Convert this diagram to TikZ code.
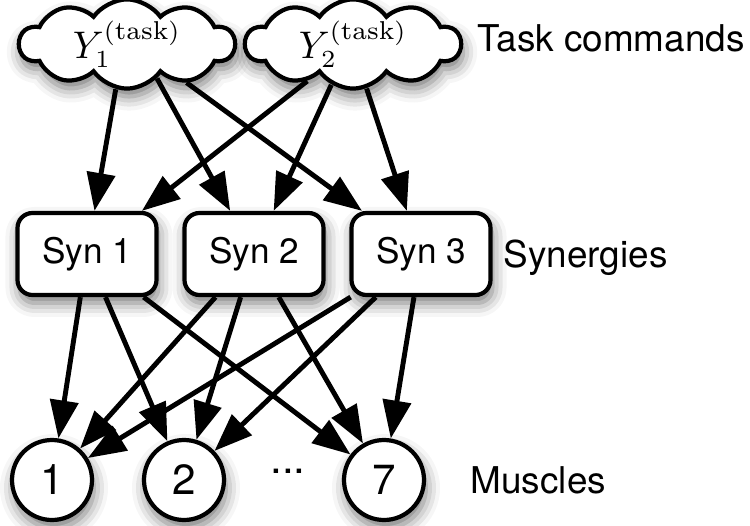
\documentclass[tikz,border=0pt]{standalone}
\usepackage{fontspec}
\setsansfont{TeX Gyre Heros}
\usetikzlibrary{shapes,shapes.symbols,arrows.meta,shadows.blur}

\begin{document}
\begin{tikzpicture}[
  shade/.style={blur shadow={shadow xshift=0.2mm, shadow yshift=-0.8mm, shadow blur radius=1.4mm, shadow opacity=55}},
  cmd/.style={cloud, cloud puffs=10, cloud puff arc=110, aspect=2.6, draw, line width=1.2pt, fill=white, shade,
    minimum width=2.15cm, minimum height=0.86cm, inner sep=0pt, font=\fontsize{10.5}{12}\selectfont},
  syn/.style={rectangle, rounded corners=0.15cm, draw, line width=1.2pt, fill=white, shade,
    minimum width=1.39cm, minimum height=0.82cm, font=\sffamily\fontsize{10}{12}\selectfont},
  musc/.style={circle, draw, line width=1.2pt, fill=white, shade, minimum size=0.8cm, inner sep=0pt,
    font=\sffamily\fontsize{12}{14}\selectfont},
  lbl/.style={anchor=west, inner sep=0pt, font=\sffamily\fontsize{10.5}{12}\selectfont},
  arr/.style={line width=1.4pt, -{Triangle[length=3.8mm,width=2.8mm]}}
]
\useasboundingbox (0,0) rectangle (7.5,5.25);

% task commands
\node[cmd] (y1) at (1.27,4.81) {$Y_1^{(\mathrm{task})}$};
\node[cmd] (y2) at (3.53,4.81) {$Y_2^{(\mathrm{task})}$};
\node[lbl] (tasklbl) at (4.77,4.87) {Task commands};

% synergies
\node[syn] (syn1) at (0.87,2.71) {Syn 1};
\node[syn] (syn2) at (2.54,2.71) {Syn 2};
\node[syn] (syn3) at (4.21,2.71) {Syn 3};
\node[lbl] (synlbl) at (5.03,2.67) {Synergies};

% muscles
\node[musc] (m1) at (0.52,0.45) {1};
\node[musc] (m2) at (1.84,0.45) {2};
\node[musc] (m7) at (3.84,0.45) {7};
\node[font=\sffamily\fontsize{12}{14}\selectfont] (dots) at (2.88,0.5) {\raisebox{0.3ex}{...}};
\node[lbl] (musclbl) at (4.70,0.45) {Muscles};

% commands -> synergies
\draw[arr] (y1.-104) -- (syn1);
\draw[arr] (y1.-49) -- (syn2);
\draw[arr] (y1.-33) -- (syn3);
\draw[arr] (y2.-141) -- (syn1);
\draw[arr] (y2.-118) -- (syn2);
\draw[arr] (y2.-73) -- (syn3);

% synergies -> muscles
\foreach \s in {syn1,syn2,syn3}
  \foreach \m in {m1,m2,m7}
    \draw[arr] (\s) -- (\m);
\end{tikzpicture}
\end{document}
